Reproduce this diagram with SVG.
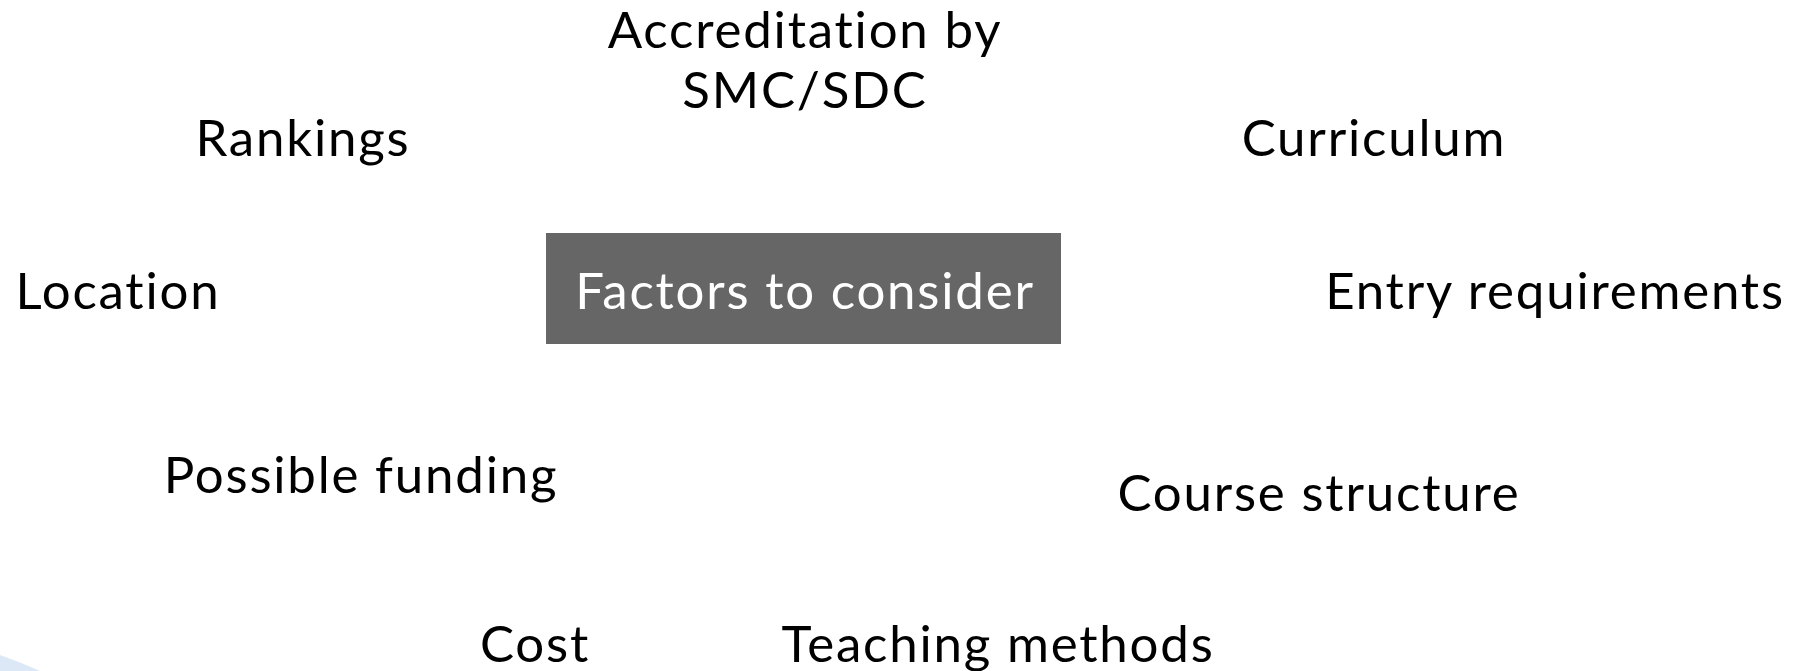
<svg xmlns="http://www.w3.org/2000/svg" width="1797" height="671" viewBox="0 0 1797 671">
<style>
.t{font-family:Lato,"Open Sans","Liberation Sans",sans-serif;font-size:51px;letter-spacing:1.8px;fill:#000;text-anchor:middle}
.w{fill:#fff}
</style>
<rect width="1797" height="671" fill="#fff"/>
<path d="M0,655 Q20,662 40,671 L0,671 Z" fill="#dce8f5"/>
<g id="connectors"></g>
<g id="center"><rect x="546" y="233" width="515" height="111" fill="#666"/><text class="t w" x="805" y="309">Factors to consider</text></g>
<g id="accreditation"><text class="t" x="805" y="48">Accreditation by</text><text class="t" x="805" y="108">SMC/SDC</text></g>
<g id="rankings"><text class="t" x="303" y="156">Rankings</text></g>
<g id="curriculum"><text class="t" x="1374" y="156">Curriculum</text></g>
<g id="location"><text class="t" x="118" y="309">Location</text></g>
<g id="entry"><text class="t" x="1555" y="309">Entry requirements</text></g>
<g id="funding"><text class="t" x="361" y="493">Possible funding</text></g>
<g id="structure"><text class="t" x="1319" y="511">Course structure</text></g>
<g id="cost"><text class="t" x="535" y="662">Cost</text></g>
<g id="teaching"><text class="t" x="998" y="662">Teaching methods</text></g>
</svg>
